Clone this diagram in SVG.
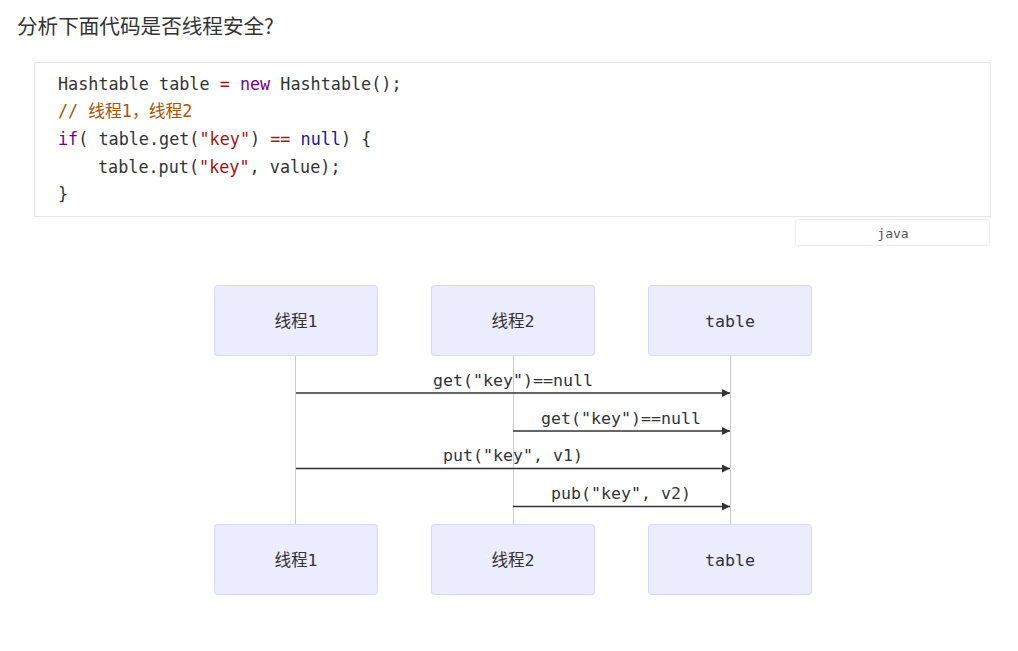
<svg xmlns="http://www.w3.org/2000/svg" width="1018" height="651" viewBox="0 0 1018 651">
<defs>
<style>
.title{font-family:"Noto Sans CJK SC","Microsoft YaHei",sans-serif;font-size:20.6px;fill:#333}
.code{font-family:"DejaVu Sans Mono","Noto Sans CJK SC",monospace;font-size:16.8px;fill:#333}
.kw{fill:#770088}.str{fill:#aa1111}.cm{fill:#aa5500}.op{fill:#981a1a}.nl{fill:#221199}
.actor rect{fill:#ECECFF;stroke:#D6D6FF;stroke-width:1}
.actor text{font-family:"DejaVu Sans Mono","Noto Sans CJK SC",monospace;font-size:16.6px;fill:#333;text-anchor:middle}
.life{stroke:#ccc;stroke-width:1}
.msg{stroke:#333;stroke-width:1.5;fill:none;marker-end:url(#ah)}
.lbl{font-family:"DejaVu Sans Mono",monospace;font-size:16.6px;fill:#333;text-anchor:middle}
</style>
<marker id="ah" viewBox="0 0 10 10" refX="10" refY="5" markerWidth="8" markerHeight="8" markerUnits="userSpaceOnUse" orient="auto">
<path d="M0,0 L10,5 L0,10 z" fill="#333"/>
</marker>
</defs>
<rect width="1018" height="651" fill="#fff"/>
<text class="title" x="17" y="34">分析下面代码是否线程安全?</text>
<g id="codeblock">
<rect x="34.5" y="62.5" width="956" height="154" fill="#fff" stroke="#e6e6e6"/>
<text class="code" x="58" y="90">Hashtable table <tspan class="op">=</tspan> <tspan class="kw">new</tspan> Hashtable();</text>
<text class="code cm" x="58" y="117">// 线程1，线程2</text>
<text class="code" x="58" y="145"><tspan class="kw">if</tspan>( table.get(<tspan class="str">"key"</tspan>) <tspan class="op">==</tspan> <tspan class="nl">null</tspan>) {</text>
<text class="code" x="98" y="173">table.put(<tspan class="str">"key"</tspan>, value);</text>
<text class="code" x="58" y="200">}</text>
</g>
<g id="langtab">
<rect x="795.5" y="219.5" width="194" height="26" rx="2" fill="#fff" stroke="#eee"/>
<text x="893" y="238" style="font-family:'DejaVu Sans Mono',monospace;font-size:13px;fill:#555;text-anchor:middle">java</text>
</g>
<g id="lifelines">
<line class="life" x1="295.5" y1="355" x2="295.5" y2="524"/>
<line class="life" x1="513.5" y1="355" x2="513.5" y2="524"/>
<line class="life" x1="730.5" y1="355" x2="730.5" y2="524"/>
</g>
<g id="actor-t1-top" class="actor"><rect x="214.5" y="285.5" width="163" height="70" rx="3"/><text x="296" y="327">线程1</text></g>
<g id="actor-t2-top" class="actor"><rect x="431.5" y="285.5" width="163" height="70" rx="3"/><text x="513" y="327">线程2</text></g>
<g id="actor-table-top" class="actor"><rect x="648.5" y="285.5" width="163" height="70" rx="3"/><text x="730" y="327">table</text></g>
<g id="actor-t1-bottom" class="actor"><rect x="214.5" y="524.5" width="163" height="70" rx="3"/><text x="296" y="566">线程1</text></g>
<g id="actor-t2-bottom" class="actor"><rect x="431.5" y="524.5" width="163" height="70" rx="3"/><text x="513" y="566">线程2</text></g>
<g id="actor-table-bottom" class="actor"><rect x="648.5" y="524.5" width="163" height="70" rx="3"/><text x="730" y="566">table</text></g>
<g id="connectors">
<line class="msg" x1="296" y1="393" x2="730" y2="393"/>
<text class="lbl" x="513" y="386">get("key")==null</text>
<line class="msg" x1="513" y1="431" x2="730" y2="431"/>
<text class="lbl" x="621" y="424">get("key")==null</text>
<line class="msg" x1="296" y1="468.5" x2="730" y2="468.5"/>
<text class="lbl" x="513" y="461">put("key", v1)</text>
<line class="msg" x1="513" y1="506.5" x2="730" y2="506.5"/>
<text class="lbl" x="621" y="499">pub("key", v2)</text>
</g>
</svg>
